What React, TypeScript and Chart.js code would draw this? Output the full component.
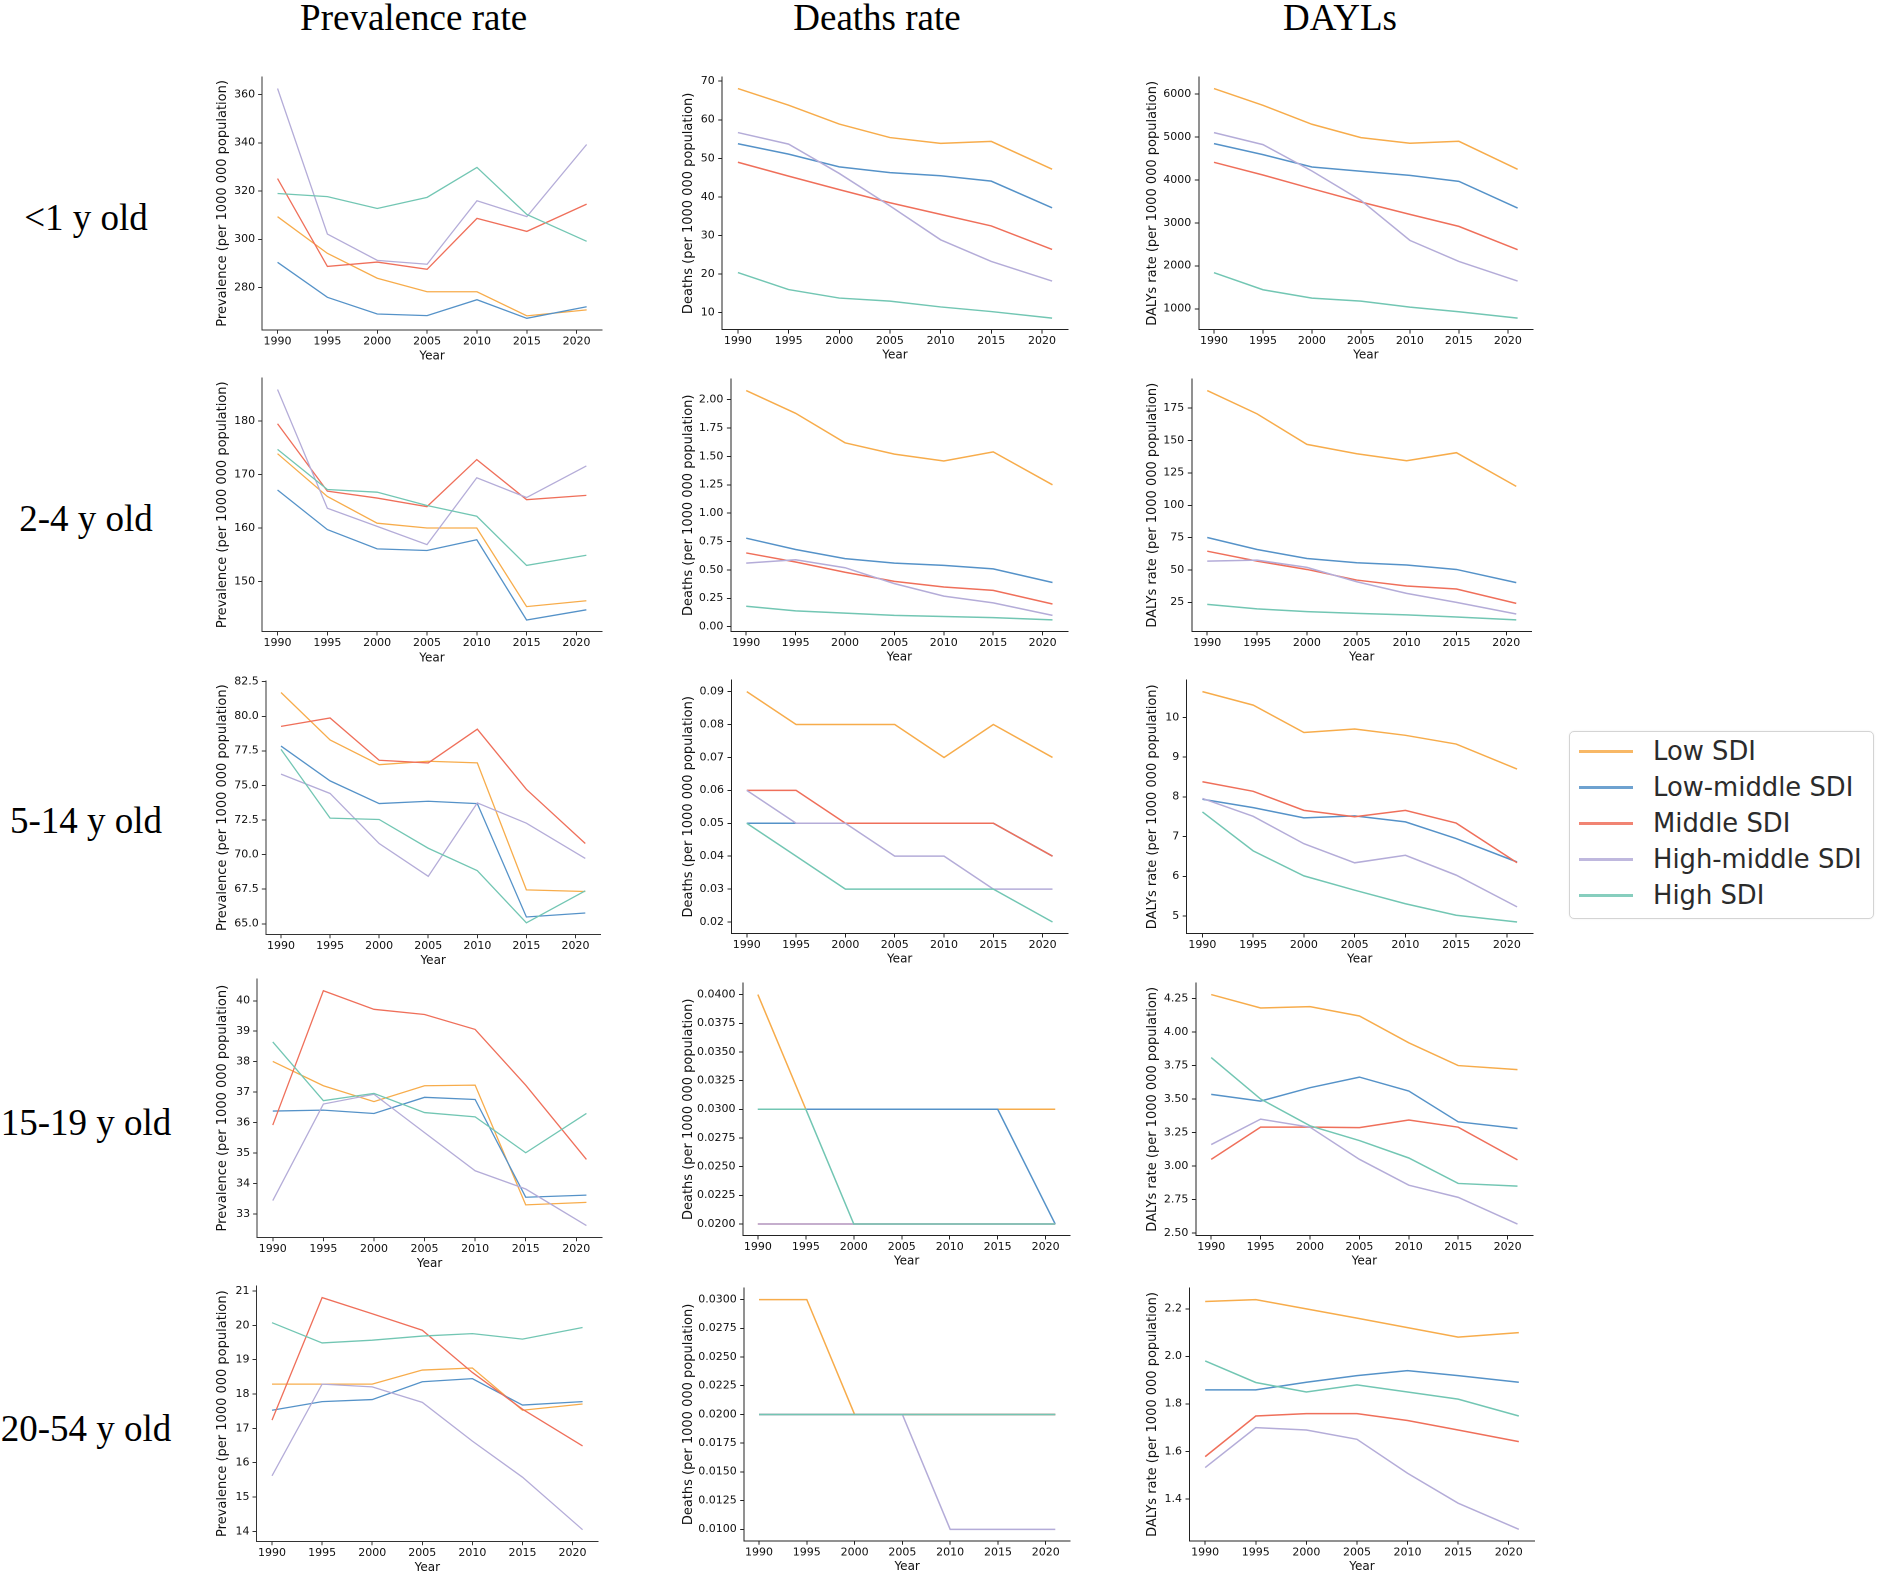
import React, { useEffect, useRef } from "react";
import { Chart, registerables } from "chart.js";

Chart.register(...registerables);

// ---------- categories / labels ----------
const years = [1990, 1995, 2000, 2005, 2010, 2015, 2021];
const yearTicks = [1990, 1995, 2000, 2005, 2010, 2015, 2020];
const sdiLabels = ["Low SDI", "Low-middle SDI", "Middle SDI", "High-middle SDI", "High SDI"];
const sdiColors = ["#F7AC4B", "#5592C8", "#EF6F5A", "#B4ACD8", "#72C6B3"];
const columnTitles = ["Prevalence rate", "Deaths rate", "DAYLs"];
const rowLabels = ["<1 y old", "2-4 y old", "5-14 y old", "15-19 y old", "20-54 y old"];
const yAxisTitles = [
  "Prevalence (per 1000 000 population)",
  "Deaths (per 1000 000 population)",
  "DALYs rate (per 1000 000 population)",
];

// ---------- series values (rows: Low, Low-middle, Middle, High-middle, High) ----------
const prevalenceLt1 = [
  [309.4, 294.2, 283.9, 278.3, 278.3, 268.3, 270.8],
  [290.5, 276.0, 269.1, 268.4, 275.0, 267.3, 272.1],
  [325.2, 288.8, 290.6, 287.6, 308.7, 303.3, 314.6],
  [362.5, 302.2, 291.3, 289.7, 316.0, 309.4, 339.3],
  [319.0, 317.7, 312.8, 317.4, 329.8, 310.3, 299.2],
];
const prevalence2to4 = [
  [173.9, 165.9, 160.9, 160.0, 160.0, 145.3, 146.4],
  [167.1, 159.7, 156.1, 155.8, 157.8, 142.8, 144.7],
  [179.5, 166.9, 165.6, 164.0, 172.8, 165.3, 166.1],
  [185.9, 163.7, 160.3, 156.9, 169.4, 165.7, 171.6],
  [174.7, 167.2, 166.7, 164.2, 162.2, 153.0, 154.9],
];
const prevalence5to14 = [
  [81.72, 78.29, 76.5, 76.75, 76.63, 67.45, 67.33],
  [77.85, 75.33, 73.69, 73.86, 73.69, 65.49, 65.78],
  [79.27, 79.88, 76.82, 76.63, 79.07, 74.72, 70.8],
  [75.82, 74.42, 70.8, 68.43, 73.74, 72.27, 69.72],
  [77.61, 72.64, 72.54, 70.46, 68.84, 65.07, 67.38],
];
const prevalence15to19 = [
  [38.01, 37.21, 36.69, 37.21, 37.23, 33.3, 33.38],
  [36.38, 36.41, 36.3, 36.83, 36.76, 33.55, 33.62],
  [35.92, 40.33, 39.72, 39.55, 39.06, 37.23, 34.79],
  [33.44, 36.61, 36.93, 35.67, 34.42, 33.82, 32.62],
  [38.65, 36.72, 36.96, 36.33, 36.19, 35.01, 36.3],
];
const prevalence20to54 = [
  [18.29, 18.29, 18.29, 18.7, 18.76, 17.53, 17.71],
  [17.53, 17.78, 17.84, 18.36, 18.45, 17.68, 17.78],
  [17.24, 20.81, 20.34, 19.86, 18.63, 17.56, 16.49],
  [15.62, 18.29, 18.21, 17.76, 16.63, 15.58, 14.05],
  [20.08, 19.49, 19.57, 19.69, 19.76, 19.6, 19.94],
];

const deathsLt1 = [
  [68.1, 63.8, 58.9, 55.4, 53.9, 54.4, 47.2],
  [53.8, 51.1, 47.8, 46.3, 45.5, 44.1, 37.2],
  [49.0, 45.4, 41.9, 38.5, 35.5, 32.5, 26.4],
  [56.7, 53.7, 46.1, 37.7, 28.9, 23.3, 18.2],
  [20.4, 16.0, 13.8, 13.0, 11.5, 10.3, 8.6],
];
const deaths2to4 = [
  [2.08, 1.88, 1.62, 1.52, 1.46, 1.54, 1.25],
  [0.78, 0.68, 0.6, 0.56, 0.54, 0.51, 0.39],
  [0.65, 0.57, 0.48, 0.4, 0.35, 0.32, 0.2],
  [0.56, 0.59, 0.52, 0.38, 0.27, 0.21, 0.1],
  [0.18, 0.14, 0.12, 0.1, 0.09, 0.08, 0.06],
];
const deaths5to14 = [
  [0.09, 0.08, 0.08, 0.08, 0.07, 0.08, 0.07],
  [0.05, 0.05, 0.05, 0.05, 0.05, 0.05, 0.04],
  [0.06, 0.06, 0.05, 0.05, 0.05, 0.05, 0.04],
  [0.06, 0.05, 0.05, 0.04, 0.04, 0.03, 0.03],
  [0.05, 0.04, 0.03, 0.03, 0.03, 0.03, 0.02],
];
const deaths15to19 = [
  [0.04, 0.03, 0.03, 0.03, 0.03, 0.03, 0.03],
  [0.03, 0.03, 0.03, 0.03, 0.03, 0.03, 0.02],
  [0.02, 0.02, 0.02, 0.02, 0.02, 0.02, 0.02],
  [0.02, 0.02, 0.02, 0.02, 0.02, 0.02, 0.02],
  [0.03, 0.03, 0.02, 0.02, 0.02, 0.02, 0.02],
];
const deaths20to54 = [
  [0.03, 0.03, 0.02, 0.02, 0.02, 0.02, 0.02],
  [0.02, 0.02, 0.02, 0.02, 0.02, 0.02, 0.02],
  [0.02, 0.02, 0.02, 0.02, 0.02, 0.02, 0.02],
  [0.02, 0.02, 0.02, 0.02, 0.01, 0.01, 0.01],
  [0.02, 0.02, 0.02, 0.02, 0.02, 0.02, 0.02],
];

const dalysLt1 = [
  [6132, 5743, 5300, 4989, 4857, 4904, 4250],
  [4849, 4593, 4305, 4204, 4110, 3970, 3348],
  [4414, 4118, 3799, 3488, 3200, 2920, 2376],
  [5106, 4826, 4211, 3527, 2594, 2104, 1645],
  [1840, 1443, 1249, 1179, 1039, 930, 782],
];
const dalys2to4 = [
  [188.6, 170.6, 147.0, 139.8, 134.4, 140.6, 114.6],
  [75.1, 65.8, 58.9, 55.6, 53.8, 50.4, 40.2],
  [64.5, 56.8, 50.4, 42.2, 37.6, 35.3, 24.2],
  [56.8, 57.6, 52.0, 40.9, 31.9, 25.0, 16.0],
  [23.4, 19.9, 17.8, 16.5, 15.3, 13.7, 11.4],
];
const dalys5to14 = [
  [10.65, 10.31, 9.62, 9.71, 9.55, 9.33, 8.7],
  [7.94, 7.73, 7.47, 7.52, 7.37, 6.95, 6.36],
  [8.38, 8.14, 7.66, 7.5, 7.66, 7.34, 6.34],
  [7.96, 7.51, 6.82, 6.34, 6.53, 6.03, 5.23],
  [7.62, 6.64, 6.01, 5.65, 5.31, 5.02, 4.85],
];
const dalys15to19 = [
  [4.28, 4.18, 4.19, 4.12, 3.92, 3.75, 3.72],
  [3.535, 3.485, 3.585, 3.664, 3.56, 3.33, 3.28],
  [3.05, 3.29, 3.29, 3.287, 3.344, 3.29, 3.046],
  [3.16, 3.35, 3.29, 3.05, 2.857, 2.766, 2.567],
  [3.81, 3.5, 3.3, 3.19, 3.06, 2.87, 2.85],
];
const dalys20to54 = [
  [2.231, 2.239, 2.2, 2.161, 2.121, 2.081, 2.1],
  [1.859, 1.859, 1.891, 1.919, 1.94, 1.919, 1.891],
  [1.578, 1.749, 1.759, 1.759, 1.73, 1.69, 1.641],
  [1.532, 1.7, 1.69, 1.651, 1.508, 1.382, 1.272],
  [1.981, 1.89, 1.85, 1.88, 1.85, 1.82, 1.749],
];

// ---------- y tick labels ----------
const prevalenceTicksLt1 = [280, 300, 320, 340, 360];
const prevalenceTicks2to4 = [150, 160, 170, 180];
const prevalenceTicks5to14 = [65.0, 67.5, 70.0, 72.5, 75.0, 77.5, 80.0, 82.5];
const prevalenceTicks15to19 = [33, 34, 35, 36, 37, 38, 39, 40];
const prevalenceTicks20to54 = [14, 15, 16, 17, 18, 19, 20, 21];
const deathsTicksLt1 = [10, 20, 30, 40, 50, 60, 70];
const deathsTicks2to4 = [0.0, 0.25, 0.5, 0.75, 1.0, 1.25, 1.5, 1.75, 2.0];
const deathsTicks5to14 = [0.02, 0.03, 0.04, 0.05, 0.06, 0.07, 0.08, 0.09];
const deathsTicks15to19 = [0.02, 0.0225, 0.025, 0.0275, 0.03, 0.0325, 0.035, 0.0375, 0.04];
const deathsTicks20to54 = [0.01, 0.0125, 0.015, 0.0175, 0.02, 0.0225, 0.025, 0.0275, 0.03];
const dalysTicksLt1 = [1000, 2000, 3000, 4000, 5000, 6000];
const dalysTicks2to4 = [25, 50, 75, 100, 125, 150, 175];
const dalysTicks5to14 = [5, 6, 7, 8, 9, 10];
const dalysTicks15to19 = [2.5, 2.75, 3.0, 3.25, 3.5, 3.75, 4.0, 4.25];
const dalysTicks20to54 = [1.4, 1.6, 1.8, 2.0, 2.2];

const panelData = [
  [prevalenceLt1, deathsLt1, dalysLt1],
  [prevalence2to4, deaths2to4, dalys2to4],
  [prevalence5to14, deaths5to14, dalys5to14],
  [prevalence15to19, deaths15to19, dalys15to19],
  [prevalence20to54, deaths20to54, dalys20to54],
];
const panelTicks = [
  [prevalenceTicksLt1, deathsTicksLt1, dalysTicksLt1],
  [prevalenceTicks2to4, deathsTicks2to4, dalysTicks2to4],
  [prevalenceTicks5to14, deathsTicks5to14, dalysTicks5to14],
  [prevalenceTicks15to19, deathsTicks15to19, dalysTicks15to19],
  [prevalenceTicks20to54, deathsTicks20to54, dalysTicks20to54],
];
const panelDecimals = [
  [0, 0, 0],
  [0, 2, 0],
  [1, 2, 0],
  [0, 4, 2],
  [0, 4, 1],
];

// ---------- layout (screen pixels) ----------
const FONT = "'DejaVu Sans', sans-serif";
const SERIF = "'Liberation Serif', 'Times New Roman', serif";

type ColStyle = {
  titleX: number; tickFont: number; titleFont: number; xTitleFont: number;
  yTickLen: number; yLabelGap: number; xTickLen: number; xLabelCenter: number; xTitleCenter: number;
  lineWidth: number; axisColor: string;
};
const colStyles: ColStyle[] = [
  { titleX: 223, tickFont: 11, titleFont: 13, xTitleFont: 12, yTickLen: 4, yLabelGap: 7, xTickLen: 4, xLabelCenter: 11.7, xTitleCenter: 26.7, lineWidth: 1.3, axisColor: "#333" },
  { titleX: 688.3, tickFont: 11, titleFont: 13, xTitleFont: 12, yTickLen: 4, yLabelGap: 7.5, xTickLen: 4, xLabelCenter: 11.7, xTitleCenter: 26, lineWidth: 1.5, axisColor: "#222" },
  { titleX: 1152.3, tickFont: 11, titleFont: 13, xTitleFont: 12, yTickLen: 4, yLabelGap: 7.5, xTickLen: 4, xLabelCenter: 11.7, xTitleCenter: 26, lineWidth: 1.5, axisColor: "#222" },
];
// [left, right, top, bottom] of each axes box
const axisBoxes = [
  [[262.3, 602.3, 76.5, 329.3], [721.7, 1067.3, 76.7, 329.3], [1198.3, 1532.3, 76.7, 329.3]],
  [[262.3, 602, 378, 631.5], [730.4, 1067.3, 378.6, 631], [1191.3, 1531.2, 378.6, 631]],
  [[266, 600.7, 681, 934.3], [731, 1067.3, 680, 933.5], [1186.2, 1532.3, 680, 933.5]],
  [[257.3, 602.3, 979, 1237.3], [742.5, 1069.6, 982.5, 1235], [1195.4, 1532.3, 982.5, 1235]],
  [[256.7, 598.3, 1286, 1541.3], [743.7, 1069.6, 1288, 1540.8], [1189, 1534, 1288, 1540.8]],
];
const colTitleCenters = [413.6, 877, 1340];
const rowLabelBaselines = [229.5, 531, 833, 1134.5, 1440.5];

function Panel({ row, col }: { row: number; col: number }) {
  const ref = useRef<HTMLCanvasElement | null>(null);
  const st = colStyles[col];
  const [L, R, T, B] = axisBoxes[row][col];
  const titleLH = st.titleFont * 1.2;
  const xTitleLH = st.xTitleFont * 1.2;
  const tickLH = st.tickFont * 1.2;
  const W = L - st.titleX + titleLH / 2;
  const H = st.xTitleCenter + xTitleLH / 2;
  const plotW = R - L;
  const plotH = B - T;
  const padL = 2;
  const padT = 10;
  const rw = Math.ceil(padL + W + plotW + 16);
  const rh = Math.ceil(padT + plotH + H + 4);
  const padR = rw - padL - W - plotW;
  const padB = rh - padT - plotH - H;
  const left = L - (padL + W);
  const top = T - padT;

  useEffect(() => {
    const series = panelData[row][col];
    const ticks = panelTicks[row][col];
    const dec = panelDecimals[row][col];
    const all = series.flat();
    const dMin = Math.min(...all);
    const dMax = Math.max(...all);
    const yMargin = (dMax - dMin) * 0.05;
    const xMargin = (years[years.length - 1] - years[0]) * 0.05;
    const xPad = Math.max(0, st.xLabelCenter - st.xTickLen - tickLH / 2);
    const yPad = st.yLabelGap - st.yTickLen;

    const chart = new Chart(ref.current as HTMLCanvasElement, {
      type: "line",
      data: {
        datasets: series.map((vals, i) => ({
          label: sdiLabels[i],
          data: years.map((yr, j) => ({ x: yr, y: vals[j] })),
          borderColor: sdiColors[i],
          backgroundColor: sdiColors[i],
          borderWidth: st.lineWidth,
          pointRadius: 0,
          fill: false,
          tension: 0,
          order: series.length - 1 - i,
        })),
      },
      options: {
        animation: false,
        responsive: false,
        devicePixelRatio: 2,
        events: [],
        layout: { padding: { left: padL, right: padR, top: padT, bottom: padB } },
        plugins: { legend: { display: false }, tooltip: { enabled: false } },
        scales: {
          x: {
            type: "linear",
            min: years[0] - xMargin,
            max: years[years.length - 1] + xMargin,
            afterBuildTicks: (s: any) => {
              s.ticks = yearTicks.map((v) => ({ value: v }));
            },
            afterFit: (s: any) => {
              s.height = H;
            },
            ticks: {
              autoSkip: false,
              maxRotation: 0,
              minRotation: 0,
              padding: xPad,
              color: "#111",
              font: { family: FONT, size: st.tickFont },
              callback: (v: any) => String(v),
            },
            grid: {
              display: true,
              drawOnChartArea: false,
              drawTicks: true,
              tickLength: st.xTickLen,
              color: st.axisColor,
              tickColor: st.axisColor,
            },
            border: { display: true, color: st.axisColor, width: 1 },
            title: {
              display: true,
              text: "Year",
              color: "#111",
              padding: 0,
              font: { family: FONT, size: st.xTitleFont },
            },
          },
          y: {
            type: "linear",
            min: dMin - yMargin,
            max: dMax + yMargin,
            afterBuildTicks: (s: any) => {
              s.ticks = ticks.map((v) => ({ value: v }));
            },
            afterFit: (s: any) => {
              s.width = W;
            },
            ticks: {
              autoSkip: false,
              padding: yPad,
              color: "#111",
              font: { family: FONT, size: st.tickFont },
              callback: (v: any) => Number(v).toFixed(dec),
            },
            grid: {
              display: true,
              drawOnChartArea: false,
              drawTicks: true,
              tickLength: st.yTickLen,
              color: st.axisColor,
              tickColor: st.axisColor,
            },
            border: { display: true, color: st.axisColor, width: 1 },
            title: {
              display: true,
              text: yAxisTitles[col],
              color: "#111",
              padding: 0,
              font: { family: FONT, size: st.titleFont },
            },
          },
        },
      },
    } as any);
    return () => chart.destroy();
  }, []);

  return (
    <canvas
      ref={ref}
      width={rw}
      height={rh}
      style={{ position: "absolute", left, top, width: rw + "px", height: rh + "px", display: "block" }}
    />
  );
}

function Legend() {
  return (
    <div
      style={{
        position: "absolute",
        left: 1569,
        top: 731,
        width: 305,
        height: 188,
        boxSizing: "border-box",
        border: "1px solid #d4d4d4",
        borderRadius: 5,
        background: "#fff",
        boxShadow: "0 0 2px rgba(0,0,0,0.08)",
      }}
    >
      {sdiLabels.map((lab, i) => (
        <div key={lab} style={{ position: "absolute", left: 0, top: 19 + i * 36.1 - 15, height: 30, width: 305 }}>
          <div
            style={{
              position: "absolute",
              left: 9,
              top: 13.5,
              width: 54,
              height: 3,
              background: sdiColors[i],
              opacity: 0.85,
            }}
          />
          <div
            style={{
              position: "absolute",
              left: 83,
              top: 0,
              lineHeight: "30px",
              fontSize: 25.8,
              fontFamily: FONT,
              color: "#2b2b2b",
              whiteSpace: "nowrap",
            }}
          >
            {lab}
          </div>
        </div>
      ))}
    </div>
  );
}

export default function App() {
  return (
    <div
      style={{
        position: "absolute",
        left: 0,
        top: 0,
        width: 1892,
        height: 1583,
        background: "#fff",
        overflow: "hidden",
      }}
    >
      {columnTitles.map((t, c) => (
        <div
          key={t}
          style={{
            position: "absolute",
            left: colTitleCenters[c],
            top: -1,
            transform: "translateX(-50%)",
            fontFamily: SERIF,
            fontSize: 37,
            lineHeight: "37px",
            color: "#000",
            whiteSpace: "nowrap",
          }}
        >
          {t}
        </div>
      ))}
      {rowLabels.map((t, r) => (
        <div
          key={t}
          style={{
            position: "absolute",
            left: 86,
            top: rowLabelBaselines[r] - 31,
            transform: "translateX(-50%)",
            fontFamily: SERIF,
            fontSize: 37,
            lineHeight: "37px",
            color: "#000",
            whiteSpace: "nowrap",
          }}
        >
          {t}
        </div>
      ))}
      {panelData.map((rowArr, r) =>
        rowArr.map((_, c) => <Panel key={`${r}-${c}`} row={r} col={c} />)
      )}
      <Legend />
    </div>
  );
}
